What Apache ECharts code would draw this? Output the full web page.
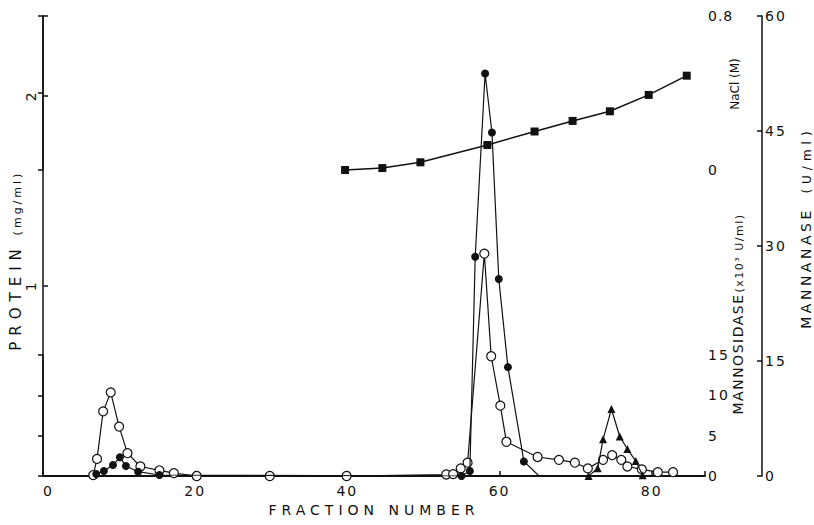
<!DOCTYPE html>
<html>
<head>
<meta charset="utf-8">
<script src="https://cdn.jsdelivr.net/npm/echarts@6/dist/echarts.min.js"></script>
<style>
  html, body { margin: 0; padding: 0; background: #fff; }
  #chart { width: 814px; height: 525px; }
</style>
</head>
<body>
<div id="chart"></div>
<script>
// Readings off the elution profile (x = fraction number)
const proteinFractions = [6.6, 7.1, 7.9, 8.9, 10.0, 11.1, 12.8, 15.3, 17.2, 20.2, 29.8, 39.9,
  53.0, 53.9, 54.9, 55.8, 58.0, 58.9, 60.1, 60.9, 65.0, 67.8, 69.9, 71.6, 73.6, 74.8, 76.0,
  76.8, 78.7, 80.8, 82.8];
const proteinValues = [0.005, 0.09, 0.34, 0.44, 0.26, 0.12, 0.05, 0.03, 0.015, 0, 0, 0,
  0.008, 0.01, 0.04, 0.07, 1.17, 0.63, 0.37, 0.18, 0.1, 0.085, 0.07, 0.04, 0.085, 0.11, 0.085,
  0.05, 0.035, 0.02, 0.02];

const mannanaseFractions = [7.0, 8.0, 9.2, 10.1, 10.9, 12.5, 15.3, 55.0, 56.1, 56.8, 58.1,
  59.0, 59.9, 61.1, 63.2, 65.2];
const mannanaseValues = [0.26, 0.65, 1.43, 2.44, 1.3, 0.56, 0.13, 0, 0.65, 28.6, 52.5, 44.8,
  25.7, 14.2, 1.9, 0];

const mannosidaseFractions = [71.7, 72.9, 73.6, 74.7, 75.8, 76.8, 77.9, 78.8];
const mannosidaseValues = [0, 0.95, 4.55, 8.3, 4.9, 3.35, 1.85, 0.1];

const naclFractions = [39.7, 44.6, 49.6, 58.4, 64.6, 69.6, 74.5, 79.6, 84.6];
const naclValues = [0, 0.01, 0.04, 0.13, 0.2, 0.255, 0.305, 0.39, 0.49];

const xTicks = [0, 20, 40, 60, 80];
const proteinTicks = [1, 2];
const naclTicks = [0, 0.8];

const FONT = "DejaVu Sans";
const INK = "#111";

// the original lettering is wide, so texts get spread out after render
const letterSpacing = {
  "FRACTION NUMBER": 5,
  "PROTEIN": 6,
  "(mg/ml)": 3,
  "MANNANASE": 3.5,
  "(U/ml)": 5,
  "MANNOSIDASE": 1.5,
  "(x10³ U/ml)": 1.5,
  "NaCl (M)": 0,
  "0.8": 1,
};

const zip = (xs, ys) => xs.map((x, i) => [x, ys[i]]);

const chart = echarts.init(document.getElementById("chart"), null, { renderer: "svg" });

const hiddenX = (gridIndex) => ({
  type: "value", gridIndex: gridIndex, min: 0, max: 87, show: false,
});

const rightAxis = (gridIndex, min, max, interval, offset, labels) => ({
  type: "value",
  gridIndex: gridIndex,
  position: "right",
  offset: offset,
  min: min,
  max: max,
  interval: interval,
  splitLine: { show: false },
  axisLine: { show: true, lineStyle: { color: INK, width: 1.5 } },
  axisTick: { show: true, inside: true, length: 5, lineStyle: { color: INK, width: 1.5 } },
  axisLabel: {
    color: INK, fontFamily: FONT, fontSize: 14, margin: 3,
    formatter: (v) => (labels && !labels.includes(v) ? "" : String(v)),
  },
});

const vText = (text, x, y, size) => ({
  type: "text",
  x: x,
  y: y,
  rotation: Math.PI / 2,
  style: {
    text: text, fontSize: size, fontFamily: FONT,
    align: "center", verticalAlign: "middle", fill: INK,
  },
});

const lineStyle = { color: INK, width: 1.2 };

const option = {
  backgroundColor: "#fff",
  animation: false,
  grid: [
    { left: 43, top: 16, width: 662, height: 460 },
    { left: 43, top: 16, width: 662, height: 154 },
    { left: 43, top: 355, width: 662, height: 121 },
  ],
  xAxis: [
    {
      type: "value",
      gridIndex: 0,
      min: 0,
      max: 87,
      interval: 20,
      name: "FRACTION NUMBER",
      nameLocation: "middle",
      nameGap: 27,
      nameTextStyle: { color: INK, fontFamily: FONT, fontSize: 14 },
      splitLine: { show: false },
      axisLine: { lineStyle: { color: INK, width: 2 } },
      axisTick: { inside: true, length: 5, lineStyle: { color: INK, width: 1.5 } },
      axisLabel: {
        color: INK, fontFamily: FONT, fontSize: 14, margin: 8,
        alignMinLabel: "left",
        formatter: (v) => (xTicks.includes(v) ? String(v) : ""),
      },
    },
    hiddenX(1),
    hiddenX(2),
  ],
  yAxis: [
    {
      type: "value",
      gridIndex: 0,
      position: "left",
      min: 0,
      max: 2.42,
      interval: 1,
      splitLine: { show: false },
      axisLine: { show: true, lineStyle: { color: INK, width: 1.5 } },
      axisTick: { show: true, inside: true, length: 5, lineStyle: { color: INK, width: 1.5 } },
      axisLabel: {
        color: INK, fontFamily: FONT, fontSize: 14, margin: 5, rotate: 90,
        formatter: (v) => (proteinTicks.includes(v) ? String(v) : ""),
      },
    },
    rightAxis(0, 0, 60, 15, 57, null),
    rightAxis(1, 0, 0.8, 0.4, 0, naclTicks),
    rightAxis(2, 0, 15, 5, 0, null),
  ],
  graphic: [
    vText("PROTEIN", 16, 297, 15),
    vText("(mg/ml)", 17, 203, 11),
    vText("NaCl (M)", 735, 84, 12),
    vText("MANNOSIDASE", 738, 354, 14),
    vText("(x10³ U/ml)", 739, 253, 11),
    vText("MANNANASE", 806, 268, 14),
    vText("(U/ml)", 807, 160, 12),
  ],
  series: [
    {
      name: "Protein",
      type: "line",
      xAxisIndex: 0,
      yAxisIndex: 0,
      data: zip(proteinFractions, proteinValues),
      symbol: "circle",
      symbolSize: 9,
      itemStyle: { color: "#fff", borderColor: INK, borderWidth: 1.2 },
      lineStyle: lineStyle,
      z: 3,
    },
    {
      name: "Mannanase",
      type: "line",
      xAxisIndex: 0,
      yAxisIndex: 1,
      data: zip(mannanaseFractions, mannanaseValues).map((p, i, all) =>
        i === all.length - 1 ? { value: p, symbol: "none" } : p
      ),
      symbol: "circle",
      symbolSize: 8,
      itemStyle: { color: INK },
      lineStyle: lineStyle,
      z: 4,
    },
    {
      name: "Mannosidase",
      type: "line",
      xAxisIndex: 2,
      yAxisIndex: 3,
      data: zip(mannosidaseFractions, mannosidaseValues),
      symbol: "triangle",
      symbolSize: 8,
      itemStyle: { color: INK },
      lineStyle: lineStyle,
      clip: false,
      z: 4,
    },
    {
      name: "NaCl",
      type: "line",
      xAxisIndex: 1,
      yAxisIndex: 2,
      data: zip(naclFractions, naclValues),
      symbol: "rect",
      symbolSize: 8,
      itemStyle: { color: INK },
      lineStyle: { color: INK, width: 1.5 },
      clip: false,
      z: 4,
    },
  ],
};

function spreadLetters() {
  document.querySelectorAll("#chart text").forEach((el) => {
    const txt = el.textContent.trim();
    const gap = txt in letterSpacing ? letterSpacing[txt] : 2;
    el.style.letterSpacing = gap + "px";
  });
}

chart.on("finished", spreadLetters);
chart.setOption(option);
spreadLetters();
</script>
</body>
</html>
